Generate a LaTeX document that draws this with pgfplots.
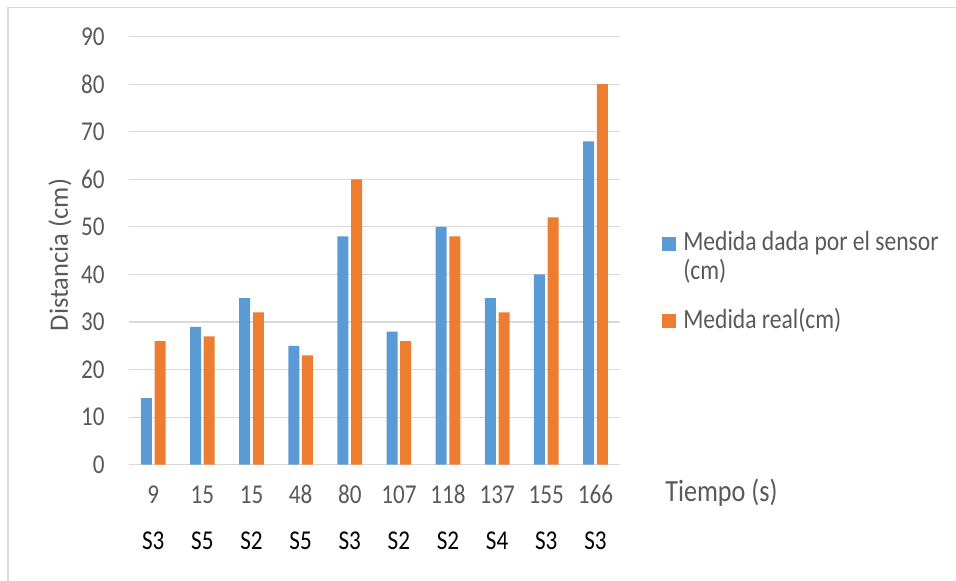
\documentclass[border=0pt]{standalone}
\usepackage{pgfplots}
\pgfplotsset{compat=1.18}
\usepackage{pgfplotstable}
\usepackage{fontspec}
\setmainfont{Carlito}[FakeStretch=0.85]
\newfontfamily\plainfont{Carlito}

\definecolor{serblue}{HTML}{5B9BD5}
\definecolor{serorange}{HTML}{ED7D31}
\definecolor{gridgray}{HTML}{D9D9D9}
\definecolor{textgray}{HTML}{595959}

\newcommand{\ticksfont}{\fontsize{20.4}{24}\selectfont}
\newcommand{\legendfont}{\fontsize{20.8}{21.2}\selectfont}
\newcommand{\titlefont}{\fontsize{23.1}{27}\selectfont}
\newcommand{\ytitlefont}{\plainfont\fontsize{19.9}{24}\selectfont}

% tiempo (s), sensor, medida dada por el sensor y medida real (cm)
\pgfplotstableread{
x tiempo sensor real
0 9   14 26
1 15  29 27
2 15  35 32
3 48  25 23
4 80  48 60
5 107 28 26
6 118 50 48
7 137 35 32
8 155 40 52
9 166 68 80
}\datos

\begin{document}
\begin{tikzpicture}
\useasboundingbox (-96.5pt,-87.2pt) rectangle (620.5pt,348.5pt);
% chart area frame
\draw[gridgray, line width=1.1pt] (-90.5pt,-95pt) -- (-90.5pt,342.9pt) -- (630pt,342.9pt);
\begin{axis}[
  at={(0pt,0pt)}, anchor=south west,
  scale only axis, width=368.5pt, height=321pt,
  ybar=2pt, bar width=8.25pt,
  xmin=-0.5, xmax=9.5, ymin=0, ymax=90,
  ytick={0,10,...,90},
  xtick={0,...,9},
  xticklabels={9,15,15,48,80,107,118,137,155,166},
  extra x ticks={0,...,9},
  extra x tick labels={S3,S5,S2,S5,S3,S2,S2,S4,S3,S3},
  extra x tick style={grid=none, xticklabel style={yshift=-34.5pt, text=black}},
  axis line style={draw=none},
  tick style={draw=none},
  ymajorgrids,
  major grid style={gridgray, line width=0.9pt},
  /pgf/number format/assume math mode=true,
  tick label style={font=\ticksfont, text=textgray, inner sep=0pt},
  yticklabel style={anchor=east, xshift=-17.8pt},
  xticklabel style={anchor=base, yshift=-25pt},
  xlabel={Tiempo (s)},
  xlabel style={at={(axis description cs:1.0916,-0.0864)}, anchor=base west,
    font=\titlefont, text=textgray, inner sep=0pt},
  ylabel={Distancia (cm)},
  ylabel style={at={(axis description cs:-0.1235,0.49)}, anchor=base,
    font=\ytitlefont, text=textgray, inner sep=0pt},
  legend style={at={(axis description cs:1.0848,0.545)}, anchor=north west,
    draw=none, fill=none, inner sep=0pt, row sep=41.5pt, column sep=5.5pt,
    font=\legendfont, text=textgray, nodes={inner sep=0pt},
    cells={anchor=base west}},
  legend image code/.code={\fill[#1] (0pt,0.15pt) rectangle (10.5pt,10.65pt);},
]
\addplot[fill=serblue, draw=none] table[x=x, y=sensor] {\datos};
\addlegendentry{\vtop{\baselineskip=21.2pt\hbox{Medida dada por el sensor}\hbox{(cm)}}}
\addplot[fill=serorange, draw=none] table[x=x, y=real] {\datos};
\addlegendentry{Medida real(cm)}
\end{axis}
\end{tikzpicture}
\end{document}
